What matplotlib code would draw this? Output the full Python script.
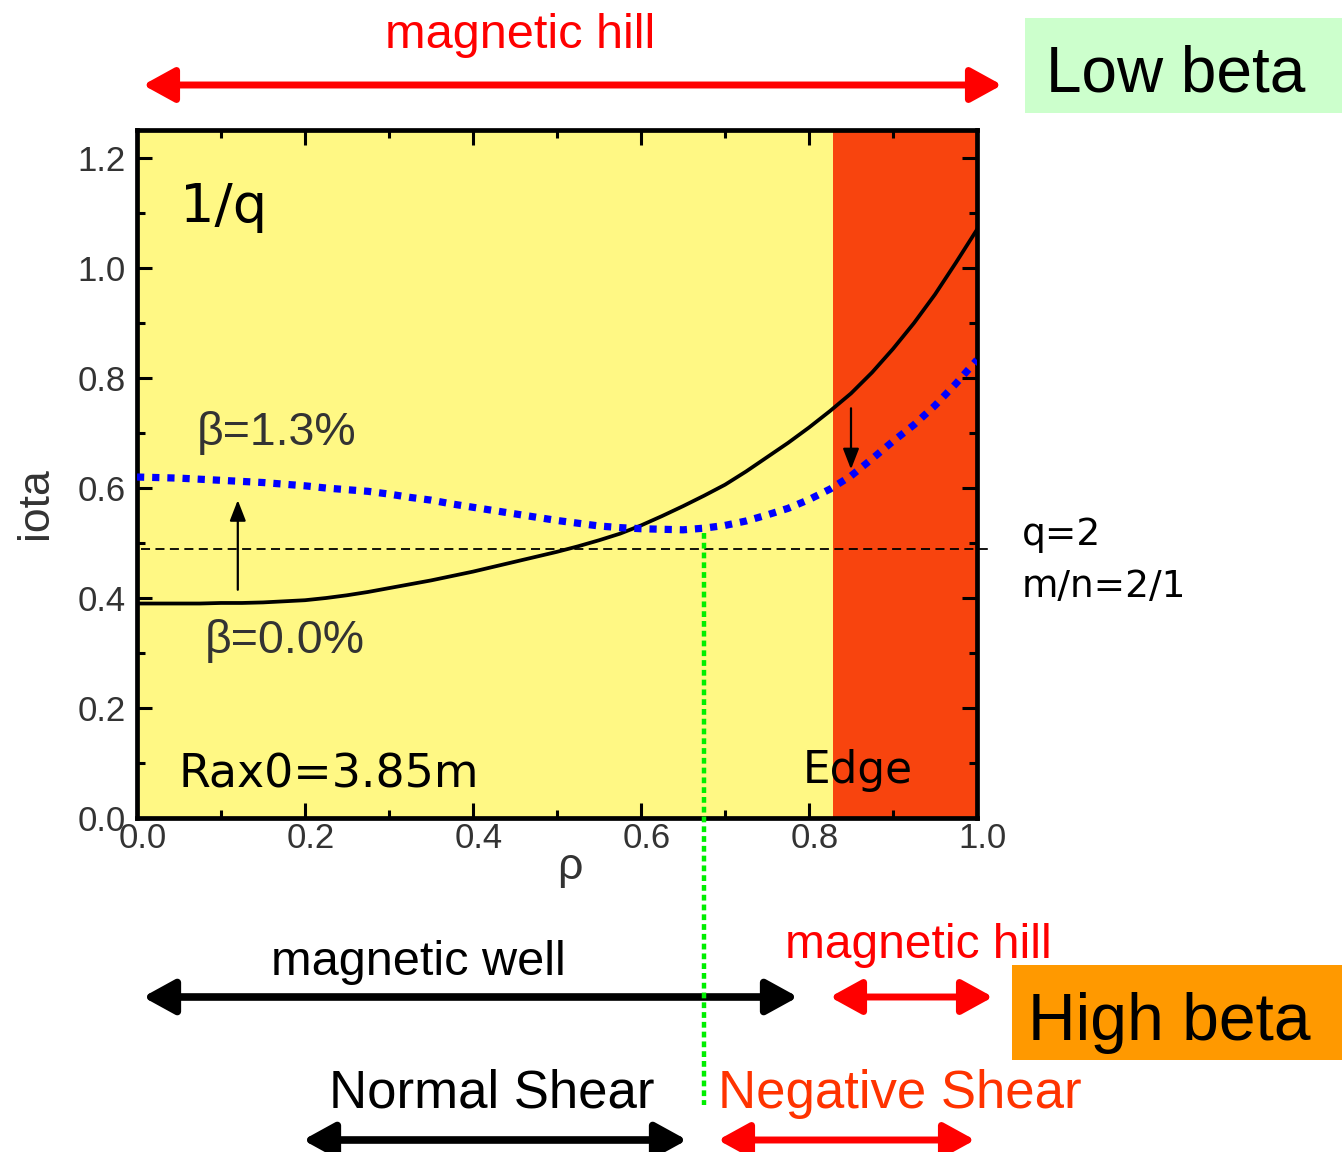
import matplotlib
matplotlib.use("Agg")
import numpy as np
import matplotlib.pyplot as plt
from matplotlib.patches import FancyArrowPatch, Rectangle, ArrowStyle
from matplotlib.lines import Line2D
import matplotlib.transforms as mtransforms
from matplotlib import font_manager

# ---------------- data ----------------
rho = [0.000, 0.025, 0.050, 0.075, 0.100, 0.125, 0.150, 0.175, 0.200, 0.225,
       0.250, 0.275, 0.300, 0.325, 0.350, 0.375, 0.400, 0.425, 0.450, 0.475,
       0.500, 0.525, 0.550, 0.575, 0.600, 0.625, 0.650, 0.675, 0.700, 0.725,
       0.750, 0.775, 0.800, 0.825, 0.850, 0.875, 0.900, 0.925, 0.950, 0.975, 1.000]
iota_beta0 = [0.390, 0.390, 0.390, 0.390, 0.391, 0.391, 0.392, 0.394, 0.396, 0.400,
              0.405, 0.411, 0.418, 0.425, 0.432, 0.440, 0.448, 0.457, 0.466, 0.475,
              0.484, 0.494, 0.505, 0.517, 0.532, 0.549, 0.567, 0.586, 0.606, 0.630,
              0.656, 0.682, 0.710, 0.740, 0.772, 0.810, 0.853, 0.900, 0.952, 1.010, 1.070]
iota_beta13 = [0.620, 0.619, 0.618, 0.616, 0.614, 0.612, 0.610, 0.607, 0.604, 0.600,
               0.597, 0.594, 0.589, 0.583, 0.578, 0.571, 0.565, 0.559, 0.553, 0.547,
               0.541, 0.536, 0.531, 0.528, 0.526, 0.525, 0.524, 0.527, 0.532, 0.540,
               0.551, 0.563, 0.579, 0.598, 0.622, 0.653, 0.685, 0.715, 0.750, 0.790, 0.833]
q2_iota = 0.49
edge_start = 0.829
rho_shear_min = 0.675
xticks = [0.0, 0.2, 0.4, 0.6, 0.8, 1.0]
xticklabels = ["0.0", "0.2", "0.4", "0.6", "0.8", "1.0"]
yticks = [0.0, 0.2, 0.4, 0.6, 0.8, 1.0, 1.2]
yticklabels = ["0.0", "0.2", "0.4", "0.6", "0.8", "1.0", "1.2"]

# ---------------- fonts ----------------
names = {f.name for f in font_manager.fontManager.ttflist}
ARIAL = "Liberation Sans"
NARROW = "Liberation Sans Narrow" if "Liberation Sans Narrow" in names else "Liberation Sans"
VERD = "DejaVu Sans"

W, H = 1342, 1152
fig = plt.figure(figsize=(W / 100, H / 100), dpi=100)


def fx(x):
    return x / W


def fy(y):
    return 1 - y / H


YELLOW = "#fff884"
EDGE_RED = "#f8440e"
RED = "#ff0000"
NEG = "#ff3300"
GREEN = "#00ee00"

ax = fig.add_axes([fx(137), fy(818), (977 - 137) / W, (818 - 130) / H])
ax.set_xlim(0, 1)
ax.set_ylim(0, 1.251)
ax.axvspan(0, edge_start, color=YELLOW, zorder=0, lw=0)
ax.axvspan(edge_start, 1, color=EDGE_RED, zorder=0, lw=0)

ax.plot(rho, iota_beta0, color="black", lw=2.7, zorder=3, solid_joinstyle="round")
ax.plot(rho, iota_beta13, color="#0000ff", lw=5.2, linestyle=(0, (1.0, 1.1)),
        dash_capstyle="butt", zorder=3)

# q=2 dashed line (extends slightly beyond the axes)
ax.plot([0.005, 1.019], [q2_iota, q2_iota], color="black", lw=1.3,
        linestyle=(0, (5, 3)), clip_on=False, zorder=4)

# green dotted vertical line at iota minimum, running down into the figure
blend = mtransforms.blended_transform_factory(ax.transData, fig.transFigure)
iota_min_pos = float(np.interp(rho_shear_min, rho, iota_beta13))
top_fig = fig.transFigure.inverted().transform(
    ax.transData.transform((rho_shear_min, iota_min_pos)))[1]
fig.add_artist(Line2D([rho_shear_min, rho_shear_min], [top_fig - 0.004, fy(1105)],
                      transform=blend, color=GREEN, lw=3.2,
                      linestyle=(0, (1.3, 0.9)), dash_capstyle="butt", zorder=5))

# small arrows inside plot
ax.annotate("", xy=(0.12, 0.578), xytext=(0.12, 0.415),
            arrowprops=dict(arrowstyle="-|>,head_length=0.9,head_width=0.35",
                            color="black", lw=1.6, shrinkA=0, shrinkB=0, mutation_scale=14))
ax.annotate("", xy=(0.85, 0.634), xytext=(0.85, 0.745),
            arrowprops=dict(arrowstyle="-|>,head_length=0.9,head_width=0.35",
                            color="black", lw=1.6, shrinkA=0, shrinkB=0, mutation_scale=14))

# ticks & spines
for s in ax.spines.values():
    s.set_linewidth(3.4)
ax.set_xticks(xticks)
ax.set_xticklabels(xticklabels)
ax.set_yticks(yticks)
ax.set_yticklabels(yticklabels)
ax.set_xticks([0.1, 0.3, 0.5, 0.7, 0.9], minor=True)
ax.set_yticks([0.1, 0.3, 0.5, 0.7, 0.9, 1.1], minor=True)
ax.tick_params(which="both", direction="in", top=True, right=True, width=2.2, colors="black")
ax.tick_params(which="major", length=11)
ax.tick_params(which="minor", length=6)
ax.tick_params(axis="x", pad=3)
ax.tick_params(axis="y", pad=8)
shift = mtransforms.ScaledTranslation(6 / 100, 0, fig.dpi_scale_trans)
for lab in ax.get_xticklabels():
    lab.set_transform(lab.get_transform() + shift)
for lab in ax.get_xticklabels() + ax.get_yticklabels():
    lab.set_fontfamily(ARIAL)
    lab.set_fontsize(25)
    lab.set_color("#333333")

ax.set_ylabel("iota", fontfamily=ARIAL, fontsize=32, color="#333333")
ax.yaxis.set_label_coords(-0.097, 0.458)
ax.set_xlabel("ρ", fontfamily=ARIAL, fontsize=32, color="#333333")
ax.xaxis.set_label_coords(0.515, -0.042)

# texts inside axes
ax.text(0.051, 1.084, "1/q", fontfamily=VERD, fontsize=39, color="black", va="baseline")
ax.text(0.071, 0.678, "β=1.3%", fontfamily=ARIAL, fontsize=33.5, color="#333333", va="baseline")
ax.text(0.081, 0.300, "β=0.0%", fontfamily=ARIAL, fontsize=33.5, color="#333333", va="baseline")
ax.text(0.049, 0.055, "Rax0=3.85m", fontfamily=VERD, fontsize=33, color="black", va="baseline")
ax.text(0.793, 0.064, "Edge", fontfamily=VERD, fontsize=31.5, color="black", va="baseline")

# q=2 labels
fig.text(fx(1022), fy(545), "q=2", fontfamily=VERD, fontsize=27, color="black", va="baseline")
fig.text(fx(1022), fy(597), "m/n=2/1", fontfamily=VERD, fontsize=27, color="black", va="baseline")


def darrow(x0, x1, y, color, lw=5):
    p = FancyArrowPatch((fx(x0), fy(y)), (fx(x1), fy(y)), transform=fig.transFigure,
                        arrowstyle=ArrowStyle("<|-|>", head_length=1.0, head_width=0.55),
                        mutation_scale=19, color=color, lw=lw, shrinkA=0, shrinkB=0)
    fig.add_artist(p)


# top annotation
fig.text(fx(520), fy(48), "magnetic hill", fontfamily=ARIAL, fontsize=35, color=RED,
         ha="center", va="baseline")
darrow(143, 1002, 85, RED, lw=5)
fig.add_artist(Rectangle((fx(1025), fy(113)), (1342 - 1025) / W, (113 - 18) / H,
                         transform=fig.transFigure, color="#ccffcc", lw=0))
fig.text(fx(1176), fy(91), "Low beta", fontfamily=ARIAL, fontsize=46, color="black",
         ha="center", va="baseline")

# bottom annotations
fig.text(fx(418), fy(975), "magnetic well", fontfamily=NARROW, fontsize=35, color="black",
         ha="center", va="baseline")
darrow(143, 798, 997, "black", lw=5.5)
fig.text(fx(918), fy(958), "magnetic hill", fontfamily=NARROW, fontsize=34.5, color=RED,
         ha="center", va="baseline")
darrow(830, 993, 997, RED, lw=5)
fig.add_artist(Rectangle((fx(1012), fy(1060)), (1342 - 1012) / W, (1060 - 965) / H,
                         transform=fig.transFigure, color="#ff9900", lw=0))
fig.text(fx(1169), fy(1040), "High beta", fontfamily=NARROW, fontsize=47.5, color="black",
         ha="center", va="baseline")

fig.text(fx(492), fy(1108), "Normal Shear", fontfamily=NARROW, fontsize=38, color="black",
         ha="center", va="baseline")
darrow(303, 687, 1140, "black", lw=5.5)
fig.text(fx(900), fy(1108), "Negative Shear", fontfamily=NARROW, fontsize=38, color=NEG,
         ha="center", va="baseline")
darrow(718, 975, 1140, RED, lw=5)

fig.savefig("out.png", dpi=100)
